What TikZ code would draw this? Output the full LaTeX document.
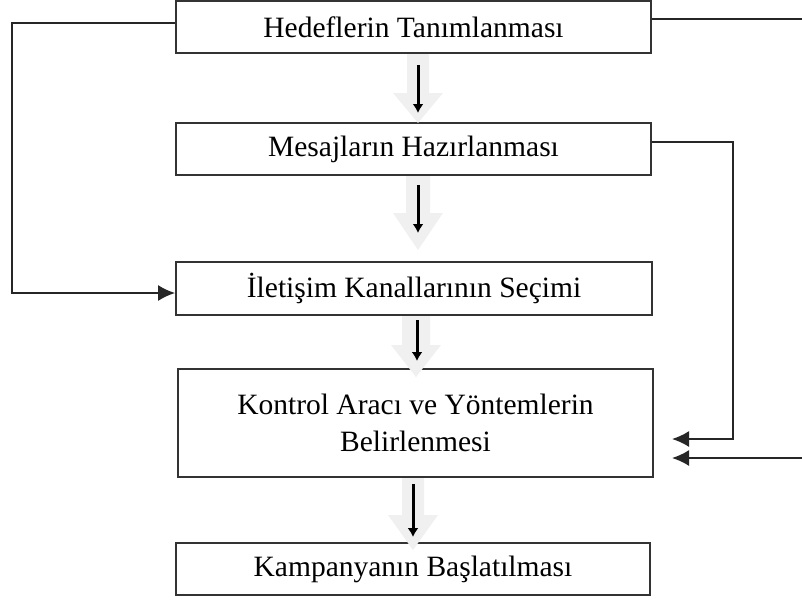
\documentclass[tikz,border=0pt]{standalone}
\usepackage{fontspec}
\setmainfont{Liberation Serif}
\usetikzlibrary{arrows.meta}
\tikzset{
  box/.style={draw=black!80, line width=1.8pt, fill=white, inner sep=0pt, align=center,
    font=\fontsize{29.5}{37}\selectfont},
  conn/.style={draw=black!85, line width=1.8pt},
  tipL/.style={-{Latex[length=17pt,width=16pt]}},
  blockarrow/.style={fill=black!6, draw=none},
  inarrow/.style={line width=3pt, -{Latex[length=9pt,width=11pt]}},
}
\newcommand\blockarr[5]{% x center, y top, y head start, y tip, shaft half-width
  \fill[blockarrow] (#1-#5,#2) -- (#1+#5,#2) -- (#1+#5,#3) -- (#1+25,#3) -- (#1,#4) -- (#1-25,#3) -- (#1-#5,#3) -- cycle;}
\begin{document}
\begin{tikzpicture}[x=1pt,y=-1pt]
\useasboundingbox (0,0) rectangle (802,611);
\node[box, minimum width=475pt, minimum height=52pt] (b1) at (413.5,27) {Hedeflerin Tanımlanması};
\node[box, minimum width=475pt, minimum height=52pt] (b2) at (413.5,149) {Mesajların Hazırlanması};
\node[box, minimum width=476pt, minimum height=53pt] (b3) at (414,288.5) {İletişim Kanallarının Seçimi};
\node[box, minimum width=475pt, minimum height=108pt] (b4) at (415.5,423) {Kontrol Aracı ve Yöntemlerin\\Belirlenmesi};
\node[box, minimum width=474pt, minimum height=52pt] (b5) at (413,569) {Kampanyanın Başlatılması};
% block arrows
\blockarr{418}{54}{93}{123}{11}
\blockarr{418}{176}{213}{250}{12}
\blockarr{416}{316}{345}{377}{14}
\blockarr{413}{478}{515}{550}{11}
% inner arrows
\coordinate (a1s) at (418,65); \coordinate (a1e) at (418,113);
\coordinate (a2s) at (418,185); \coordinate (a2e) at (418,233);
\coordinate (a3s) at (417,320); \coordinate (a3e) at (417,361);
\coordinate (a4s) at (413,484); \coordinate (a4e) at (413,537);
\draw[inarrow] (a1s) -- (a1e);
\draw[inarrow] (a2s) -- (a2e);
\draw[inarrow] (a3s) -- (a3e);
\draw[inarrow] (a4s) -- (a4e);
% feedback connectors
\coordinate (t1) at (672,439);
\coordinate (t2) at (672,458);
\draw[conn, tipL] (b1.west |- 0,23) -- (12,23) |- (b3.west |- 0,293);
\draw[conn, tipL] (b2.east |- 0,142) -| (733,439) -- (t1);
\draw[conn, tipL] (b1.east |- 0,19) -| (808,458) -- (t2);
\end{tikzpicture}
\end{document}
